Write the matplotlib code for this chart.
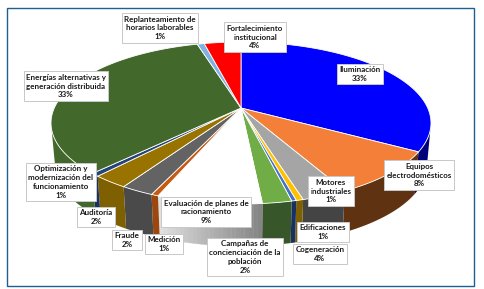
import numpy as np
import matplotlib
matplotlib.use('Agg')
import matplotlib.pyplot as plt
from matplotlib.patches import Rectangle

plt.rcParams['font.family'] = ['Lato', 'DejaVu Sans']

# slice shares (the printed labels don't quite agree with them)
labels = ['Iluminación\n33%', 'Equipos\nelectrodomésticos\n8%', 'Motores\nindustriales\n1%',
          'Edificaciones\n1%', 'Cogeneración\n4%', 'Campañas de\nconcienciación de la\npoblación\n2%',
          'Evaluación de planes de\nracionamiento\n9%', 'Medición\n1%', 'Fraude\n2%', 'Auditoría\n2%',
          'Optimización y\nmodernización del\nfuncionamiento\n1%',
          'Energías alternativas y\ngeneración distribuida\n33%',
          'Replanteamiento de\nhorarios laborables\n1%', 'Fortalecimiento\ninstitucional\n4%']
shares = [30.8, 10.0, 3.9, 0.6, 0.4, 2.5, 9.0, 0.6, 2.8, 3.0, 0.7, 32.0, 0.6, 3.1]
top_colors = ['#0000ff', '#f47f38', '#a5a5a5', '#ffc000', '#4472c4', '#70ad47', '#ffffff',
              '#c55a11', '#636363', '#997300', '#264478', '#43682b', '#7fb2e0', '#ff0000']
side_colors = ['#00007a', '#5f3312', '#444444', '#7f6000', '#1a3060', '#37572a', '#aaaaaa',
               '#9c470d', '#4a4a4a', '#7f6000', '#1a3060', '#43682b', '#7fb2e0', '#ff0000']
label_x = [360, 419, 331, 323, 320, 245, 206, 164, 127, 96, 61, 66, 160, 255]
label_y = [74, 175, 191, 232, 254, 257, 212, 244, 240, 217, 182, 86, 28, 37]

fig = plt.figure(figsize=(4.85, 2.89), dpi=100)
ax = fig.add_axes([0, 0, 1, 1])
ax.set_xlim(0, 485)
ax.set_ylim(289, 0)
ax.axis('off')

# outer frame
ax.add_patch(Rectangle((7.5, 7.5), 466.5, 278, fill=False, ec='#1f5f8f', lw=1.0))

cx, cy, rx, ry = 241, 123, 190, 81
apex = (241, 108)
depth = 42


def rim(t, dy=0, r=rx):
    t = np.radians(t)
    return cx + r * np.sin(t), cy - ry * np.cos(t) + dy


edges = np.concatenate([[0], np.cumsum(shares)]) / sum(shares) * 360

# side wall, only the front half shows
for i in range(len(shares)):
    a, b = max(edges[i], 90), min(edges[i + 1], 270)
    if a >= b:
        continue
    if i == 6:
        # evaluation slice has a grey gradient wall, light on the left
        steps = np.linspace(b, a, 25)
        for k in range(24):
            t = np.linspace(steps[k], steps[k + 1], 4)
            x1, y1 = rim(t)
            x2, y2 = rim(t[::-1], depth, rx - 4)
            g = 0.88 - 0.36 * k / 23
            ax.fill(np.r_[x1, x2], np.r_[y1, y2], color=(g, g, g), lw=0.3, zorder=2)
        continue
    t = np.linspace(a, b, 40)
    x1, y1 = rim(t)
    x2, y2 = rim(t[::-1], depth, rx - 4)
    ax.fill(np.r_[x1, x2], np.r_[y1, y2], color=side_colors[i], lw=0, zorder=2)

# top face
for i in range(len(shares)):
    t = np.linspace(edges[i], edges[i + 1], 80)
    x, y = rim(t)
    ax.fill(np.r_[apex[0], x], np.r_[apex[1], y], facecolor=top_colors[i],
            edgecolor='white', lw=0.6, zorder=3)

for lab, lx, ly in zip(labels, label_x, label_y):
    ax.text(lx, ly, lab, ha='center', va='center', fontsize=5.8, fontweight='bold',
            color='#1a1a1a', linespacing=1.32, zorder=5,
            bbox=dict(boxstyle='square,pad=0.3', fc='white', ec='#c8c8c8', lw=0.7))

fig.savefig('out.png', dpi=100)
